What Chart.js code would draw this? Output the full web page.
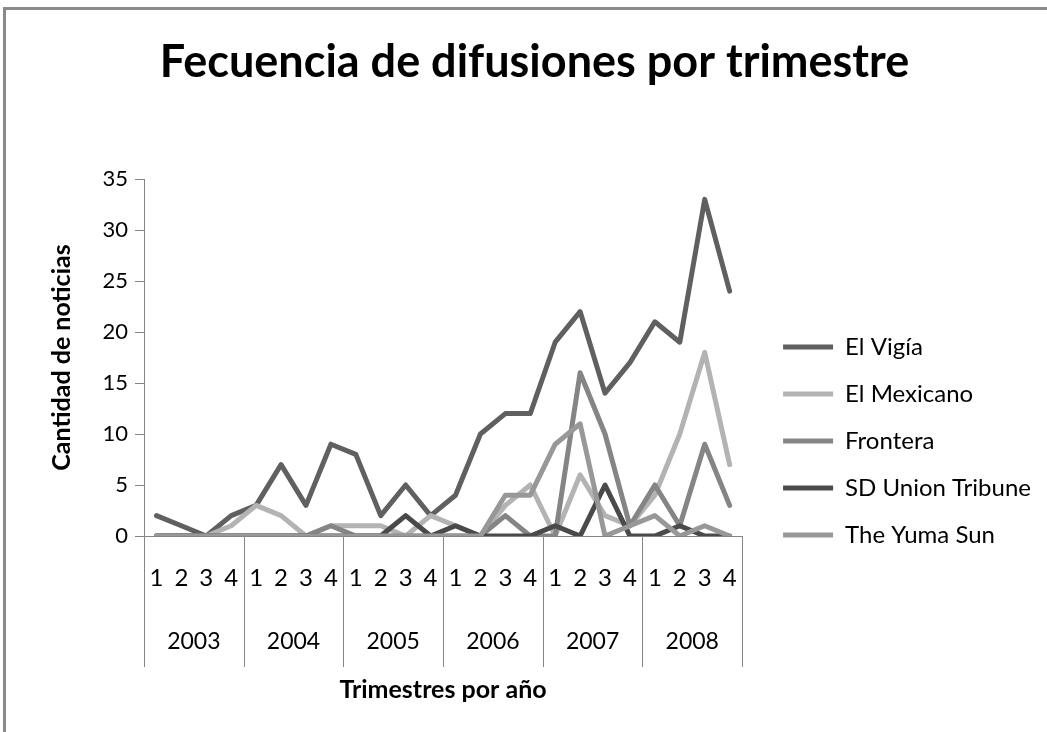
<!DOCTYPE html>
<html>
<head>
<meta charset="utf-8">
<script src="https://cdn.jsdelivr.net/npm/chart.js@4"></script>
<style>
  html, body { margin: 0; padding: 0; background: #fff; }
  #frame {
    position: absolute; left: 3px; top: 7px; width: 1100px; height: 800px;
    border-left: 3px solid #8a8a8a; border-top: 3px solid #8a8a8a;
  }
  #wrap { position: absolute; left: 0; top: 0; width: 1047px; height: 732px; }
</style>
</head>
<body>
<div id="frame"></div>
<div id="wrap"><canvas id="lineChart"></canvas></div>
<script>
// Datos: noticias por trimestre

const years = ['2003', '2004', '2005', '2006', '2007', '2008'];
const quarters = ['1', '2', '3', '4'];

const elVigia =      [2, 1, 0, 2,  3, 7, 3, 9,  8, 2, 5, 2,  4, 10, 12, 12,  19, 22, 14, 17,  21, 19, 33, 24];
const elMexicano =   [0, 0, 0, 1,  3, 2, 0, 1,  1, 1, 0, 2,  1, 0, 3, 5,     0, 6, 2, 1,      4, 10, 18, 7];
const frontera =     [0, 0, 0, 0,  0, 0, 0, 1,  0, 0, 0, 0,  0, 0, 2, 0,     0, 16, 10, 1,    5, 1, 9, 3];
const sdUnion =      [0, 0, 0, 0,  0, 0, 0, 0,  0, 0, 2, 0,  1, 0, 0, 0,     1, 0, 5, 0,      0, 1, 0, 0];
const yumaSun =      [0, 0, 0, 0,  0, 0, 0, 0,  0, 0, 0, 0,  0, 0, 4, 4,     9, 11, 0, 1,     2, 0, 1, 0];

const seriesNames = ['El Vigía', 'El Mexicano', 'Frontera', 'SD Union Tribune', 'The Yuma Sun'];
const seriesData = [elVigia, elMexicano, frontera, sdUnion, yumaSun];
const seriesColors = ['#606060', '#b3b3b3', '#858585', '#4a4a4a', '#989898'];

const labels = years.flatMap(() => quarters);

const fontFamily = 'Lato, "Open Sans", sans-serif';
const axisGray = '#868686';

// Years under the quarter labels, with dividers between them
const yearGroups = {
  id: 'yearGroups',
  afterDraw(chart) {
    const x = chart.scales.x;
    const ctx = chart.ctx;
    const half = (x.getPixelForValue(1) - x.getPixelForValue(0)) / 2;
    const top = x.top;

    ctx.save();
    ctx.strokeStyle = axisGray;
    ctx.lineWidth = 1;
    ctx.beginPath();
    for (let i = 0; i <= years.length; i++) {
      const px = Math.round(x.getPixelForValue(i * quarters.length) - half) + 0.5;
      ctx.moveTo(px, top);
      ctx.lineTo(px, top + 131);
    }
    ctx.stroke();

    ctx.fillStyle = '#000';
    ctx.font = '23px ' + fontFamily;
    ctx.textAlign = 'center';
    ctx.textBaseline = 'middle';
    years.forEach((year, i) => {
      const first = x.getPixelForValue(i * quarters.length);
      const last = x.getPixelForValue((i + 1) * quarters.length - 1);
      ctx.fillText(year, (first + last) / 2, top + 106);
    });
    ctx.restore();
  }
};

// Legend sits lower and further from the plot, title a little right
const boxOffsets = {
  id: 'boxOffsets',
  afterLayout(chart) {
    const legend = chart.legend;
    legend.left += 18;
    legend.right += 18;
    legend.top += 75;
    legend.bottom += 75;

    const title = chart.titleBlock;
    title.left += 11;
    title.right += 11;
  }
};

const lineChart = document.getElementById('lineChart');

const myLineChart = new Chart(lineChart, {
    type: 'line',
    data: {
        labels: labels,
        datasets: seriesNames.map((name, i) => ({
          label: name,
          data: seriesData[i],
          borderColor: seriesColors[i],
          backgroundColor: seriesColors[i],
          borderWidth: 5,
          borderCapStyle: 'round',
          borderJoinStyle: 'round',
          pointRadius: 0,
          tension: 0,
          order: seriesNames.length - i,
        }))
    },

    options: {
      responsive: true,
      maintainAspectRatio: false,
      animation: false,
      layout: { padding: { left: 24, right: 24, top: 0, bottom: 0 } },
      plugins: {
        title: {
          display: true,
          text: 'Fecuencia de difusiones por trimestre',
          color: '#000',
          font: { family: fontFamily, size: 45, weight: 'bold' },
          padding: { top: 35, bottom: 90 },
        },
        legend: {
          position: 'right',
          maxWidth: 320,
          labels: {
            color: '#000',
            font: { family: fontFamily, size: 24 },
            usePointStyle: true,
            pointStyle: 'line',
            pointStyleWidth: 50,
            boxHeight: 24,
            padding: 23,
            sort: (a, b) => a.datasetIndex - b.datasetIndex,
          }
        },
        tooltip: { enabled: false },
      },
      scales: {
        x: {
          offset: true,
          grid: { display: false, drawTicks: false },
          border: { color: axisGray },
          ticks: {
            color: '#000',
            font: { family: fontFamily, size: 24 },
            padding: 28,
            maxRotation: 0,
            autoSkip: false,
          },
          title: {
            display: true,
            text: 'Trimestres por año',
            color: '#000',
            font: { family: fontFamily, size: 25, weight: 'bold' },
            padding: { bottom: 27 },
          },
          afterFit: (scale) => { scale.height = 196; },
        },
        y: {
          min: 0,
          max: 35,
          grid: { drawOnChartArea: false, tickLength: 9, color: axisGray },
          border: { color: axisGray },
          ticks: {
            stepSize: 5,
            color: '#000',
            font: { family: fontFamily, size: 22 },
            padding: 7,
          },
          title: {
            display: true,
            text: 'Cantidad de noticias',
            color: '#000',
            font: { family: fontFamily, size: 25, weight: 'bold' },
            padding: { top: 23 },
          },
          afterFit: (scale) => { scale.width = 120; },
        }
      }
    },
    plugins: [yearGroups, boxOffsets]
});
</script>
</body>
</html>
